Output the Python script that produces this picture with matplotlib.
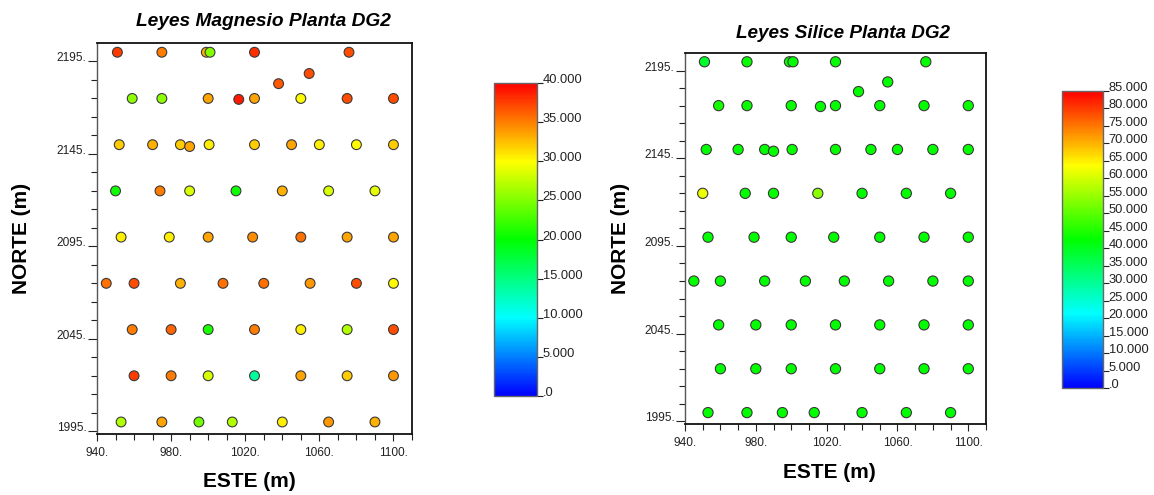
import matplotlib
matplotlib.use("Agg")
import matplotlib.pyplot as plt
from matplotlib.colors import LinearSegmentedColormap, Normalize
from matplotlib.ticker import FixedLocator, MultipleLocator
import matplotlib.cm as cm

plt.rcParams['font.family'] = ['Liberation Sans', 'DejaVu Sans']

# ---- data ----
este = [951, 975, 999, 1001, 1025, 1076,
        1054.5, 1038,
        959, 975, 1000, 1016.5, 1025, 1050, 1075, 1100,
        952, 970, 985, 990, 1000.5, 1025, 1045, 1060, 1080, 1100,
        950, 974, 990, 1015, 1040, 1065, 1090,
        953, 979, 1000, 1024, 1050, 1075, 1100,
        945, 960, 985, 1008, 1030, 1055, 1080, 1100,
        959, 980, 1000, 1025, 1050, 1075, 1100,
        960, 980, 1000, 1025, 1050, 1075, 1100,
        953, 975, 995, 1013, 1040, 1065, 1090]
norte = [2200, 2200, 2200, 2200, 2200, 2200,
         2188.5, 2183,
         2175, 2175, 2175, 2174.5, 2175, 2175, 2175, 2175,
         2150, 2150, 2150, 2149, 2150, 2150, 2150, 2150, 2150, 2150,
         2125, 2125, 2125, 2125, 2125, 2125, 2125,
         2100, 2100, 2100, 2100, 2100, 2100, 2100,
         2075, 2075, 2075, 2075, 2075, 2075, 2075, 2075,
         2050, 2050, 2050, 2050, 2050, 2050, 2050,
         2025, 2025, 2025, 2025, 2025, 2025, 2025,
         2000, 2000, 2000, 2000, 2000, 2000, 2000]
magnesio = [37.5, 35, 33, 25, 38, 37,
            37, 36.5,
            25.5, 25.5, 33.5, 39, 33.5, 30, 37, 37,
            32, 33, 32, 33.5, 30.5, 32, 33.5, 30.5, 30, 32,
            20.5, 35, 28.5, 20.5, 33, 28.5, 29,
            30.5, 30.5, 33.5, 34.5, 35.5, 33.5, 33.5,
            35.5, 37, 33, 35.5, 35.5, 34, 37, 30,
            35, 36, 21, 35, 30.5, 27, 37,
            37.5, 35, 28.5, 14, 33.5, 32, 34,
            27, 33.5, 24.5, 27, 30.5, 34, 33]
silice = [39, 43, 43, 42.5, 43, 42.5,
          42.5, 42.5,
          44, 43, 43, 43, 43, 42.5, 42.5, 43,
          42.5, 42.5, 42.5, 43, 43, 43, 42.5, 42.5, 42.5, 42.5,
          62, 42.5, 42.5, 54, 42.5, 42.5, 42.5,
          42.5, 42.5, 42.5, 42.5, 42.5, 42.5, 42.5,
          42.5, 42.5, 42.5, 42.5, 42.5, 42.5, 42.5, 42.5,
          42.5, 42.5, 42.5, 42.5, 42.5, 42.5, 42.5,
          42.5, 42.5, 42.5, 42.5, 42.5, 42.5, 42.5,
          42.5, 42.5, 42.5, 42.5, 42.5, 42.5, 42.5]

x_ticks = [940, 980, 1020, 1060, 1100]
x_ticklabels = ['940.', '980.', '1020.', '1060.', '1100.']
y_ticks = [1995, 2045, 2095, 2145, 2195]
y_ticklabels = ['1995.', '2045.', '2095.', '2145.', '2195.']

mg_ticks = [0, 5, 10, 15, 20, 25, 30, 35, 40]
mg_ticklabels = ['.0', '5.000', '10.000', '15.000', '20.000', '25.000', '30.000', '35.000', '40.000']
si_ticks = list(range(0, 90, 5))
si_ticklabels = ['.0'] + ['%d.000' % v for v in si_ticks[1:]]

titles = ['Leyes Magnesio Planta DG2', 'Leyes Silice Planta DG2']

cmap = LinearSegmentedColormap.from_list(
    'rainbow5', [(0.0, '#0000ff'), (0.25, '#00ffff'), (0.5, '#00ff00'),
                 (0.75, '#ffff00'), (1.0, '#ff0000')])

W, H = 1154, 495
fig = plt.figure(figsize=(W / 100, H / 100), dpi=100)


def px_rect(x0, y0, x1, y1):
    return [x0 / W, 1 - y1 / H, (x1 - x0) / W, (y1 - y0) / H]


def setup_axes(ax, xlab_pos, ylab_pos):
    ax.set_xlim(940, 1110)
    ax.set_ylim(1993.5, 2205)
    ax.xaxis.set_major_locator(FixedLocator(x_ticks))
    ax.set_xticklabels(x_ticklabels)
    ax.xaxis.set_minor_locator(MultipleLocator(10))
    ax.yaxis.set_major_locator(FixedLocator(y_ticks))
    ax.set_yticklabels(y_ticklabels)
    ax.yaxis.set_minor_locator(FixedLocator(list(range(2005, 2205, 10))))
    ax.tick_params(axis='both', which='major', labelsize=8.6, color='#222222',
                   labelcolor='#222222', width=0.8)
    ax.tick_params(axis='y', which='major', length=6.5, pad=1)
    ax.tick_params(axis='x', which='major', length=5, pad=4)
    ax.tick_params(axis='both', which='minor', length=4, width=0.8, color='#222222')
    for lbl in ax.get_yticklabels():
        lbl.set_verticalalignment('baseline')
    for s in ax.spines.values():
        s.set_linewidth(1.3)
        s.set_color('#111111')
    ax.spines['left'].set_linewidth(1.0)
    ax.spines['left'].set_color('#555555')
    ax.set_xlabel('ESTE (m)', fontsize=15, fontweight='bold')
    ax.set_ylabel('NORTE (m)', fontsize=15, fontweight='bold')
    ax.xaxis.set_label_coords(*xlab_pos)
    ax.yaxis.set_label_coords(*ylab_pos)
    ax.xaxis.label.set_va('center')
    ax.yaxis.label.set_va('center')


def setup_cbar(cax, vmax, ticks, labels):
    norm = Normalize(0, vmax)
    cb = fig.colorbar(cm.ScalarMappable(norm=norm, cmap=cmap), cax=cax)
    cb.set_ticks(ticks)
    cb.set_ticklabels(labels)
    cb.outline.set_edgecolor('#666666')
    cb.outline.set_linewidth(1.0)
    cax.tick_params(length=4, width=0.8, pad=0, labelsize=9.3,
                    color='#222222', labelcolor='#222222')
    for lbl in cax.get_yticklabels():
        lbl.set_verticalalignment('baseline')
    return norm


# Left panel
ax1 = fig.add_axes(px_rect(97, 43, 412, 434))
cax1 = fig.add_axes(px_rect(494, 83, 537, 396))
norm1 = setup_cbar(cax1, 40, mg_ticks, mg_ticklabels)
ax1.scatter(este, norte, c=magnesio, cmap=cmap, norm=norm1, s=50,
            edgecolors='#3a3a3a', linewidths=0.8, zorder=3, clip_on=False)
setup_axes(ax1, ((249.7 - 97) / 315, (434 - 481.7) / 391), ((22 - 97) / 315, 0.5))

# Right panel
ax2 = fig.add_axes(px_rect(685, 53, 986, 424))
cax2 = fig.add_axes(px_rect(1062, 91, 1103, 388))
norm2 = setup_cbar(cax2, 85, si_ticks, si_ticklabels)
ax2.scatter(este, norte, c=silice, cmap=cmap, norm=norm2, s=54,
            edgecolors='#3a3a3a', linewidths=0.8, zorder=3, clip_on=False)
setup_axes(ax2, ((829 - 685) / 301, (424 - 473) / 371), ((620 - 685) / 301, 0.5))

fig.text(263 / W, 1 - 22 / H, titles[0], ha='center', va='center',
         fontsize=13.8, fontweight='bold', fontstyle='italic')
fig.text(843 / W, 1 - 33 / H, titles[1], ha='center', va='center',
         fontsize=13.6, fontweight='bold', fontstyle='italic')

fig.savefig('out.png', dpi=100)
